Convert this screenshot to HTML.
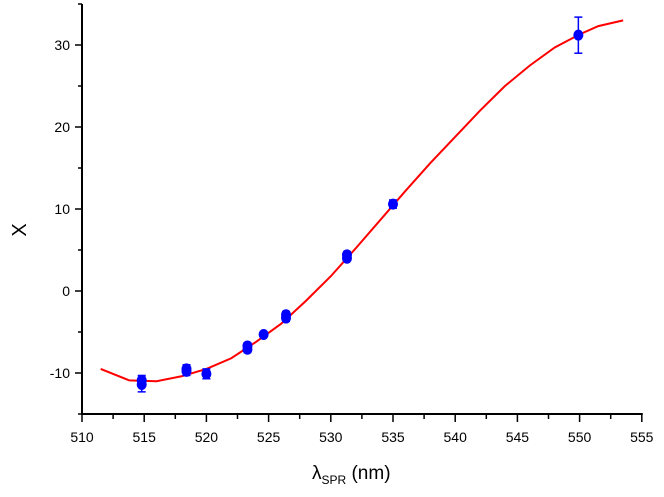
<!DOCTYPE html>
<html><head><meta charset="utf-8"><style>
html,body{margin:0;padding:0;background:#fff;}
svg{display:block;font-family:"Liberation Sans",Arial,sans-serif;}
</style></head><body>
<svg id="chart" width="664" height="497" viewBox="0 0 664 497" xmlns="http://www.w3.org/2000/svg">
<g id="axes"></g>
<g id="curve"></g>
<g id="points"></g>
<text x="26" y="230" font-size="20" text-anchor="middle" transform="rotate(-90 26 230)">X</text>
<text x="312" y="479" font-size="19">λ<tspan font-size="12" dy="5">SPR</tspan><tspan dy="-5"> (nm)</tspan></text>
</svg>
<script>
const xTicks = [510,515,520,525,530,535,540,545,550,555];
const yTicks = [-10,0,10,20,30];
const ptX = [514.8,514.8,518.4,518.4,520.0,523.3,523.3,524.6,526.4,526.4,531.3,531.3,535.0,549.9];
const ptY = [-11.4,-10.9,-9.5,-9.8,-10.1,-6.7,-7.1,-5.3,-2.9,-3.3,4.4,4.0,10.6,31.2];
const ptErr = [0.9,0.6,0.5,0.5,0.6,0.4,0.4,0.3,0.4,0.4,0.4,0.3,0.5,2.2];
const fitX = [511.5,513.8,516,518,520,522,524,526,528,530,532,534,536,538,540,542,544,546,548,550,551.5,553.5];
const fitY = [-9.5,-10.9,-11,-10.4,-9.5,-8.2,-6.2,-4.0,-1.2,1.8,5.2,8.7,12.2,15.6,18.8,22,25,27.5,29.7,31.3,32.3,33];

const X0=82, PX=62.2/5, Y0=291, PY=8.2;
const sx=v=>X0+(v-510)*PX, sy=v=>Y0-v*PY;
const NS="http://www.w3.org/2000/svg";
function mk(t,a,p){const e=document.createElementNS(NS,t);for(const k in a)e.setAttribute(k,a[k]);p.appendChild(e);return e;}
const axes=document.getElementById('axes');
const yAxis=mk('line',{x1:X0,y1:4,x2:X0,y2:414,stroke:'#000','stroke-width':2},axes);


const xAxis=mk('line',{x1:X0-1,y1:414,x2:sx(555)+1,y2:414,stroke:'#000','stroke-width':2},axes);


for(let v=-15;v<=35;v+=5){const major=v%10===0;
 mk('line',{x1:X0-(major?7:4),x2:X0,y1:sy(v),y2:sy(v),stroke:'#000','stroke-width':1.5},axes);}
yTicks.forEach(v=>{const t=mk('text',{x:X0-12,y:sy(v)+5,'font-size':14,'text-anchor':'end'},axes);t.textContent=v;
 
 });
for(let v=510;v<=555;v+=2.5){const major=v%5===0;
 mk('line',{x1:sx(v),x2:sx(v),y1:414,y2:414+(major?8:5),stroke:'#000','stroke-width':1.5},axes);}
xTicks.forEach(v=>{const t=mk('text',{x:sx(v),y:442,'font-size':14,'text-anchor':'middle'},axes);t.textContent=v;
 
 });
const curve=document.getElementById('curve');
const pl=mk('polyline',{points:fitX.map((x,i)=>sx(x)+','+sy(fitY[i])).join(' '),fill:'none',stroke:'#f00','stroke-width':2},curve);


const pts=document.getElementById('points');
ptX.forEach((x,i)=>{const g=mk('g',{},pts);
 
 
 const cx=sx(x),cy=sy(ptY[i]),t=sy(ptY[i]+ptErr[i]),b=sy(ptY[i]-ptErr[i]);
 mk('line',{x1:cx,x2:cx,y1:t,y2:b,stroke:'#00f','stroke-width':1.5},g);
 mk('line',{x1:cx-4,x2:cx+4,y1:t,y2:t,stroke:'#00f','stroke-width':1.5},g);
 mk('line',{x1:cx-4,x2:cx+4,y1:b,y2:b,stroke:'#00f','stroke-width':1.5},g);
 mk('ellipse',{cx:cx,cy:cy,rx:5,ry:5.5,fill:'#00f'},g);});
</script>
</body></html>
